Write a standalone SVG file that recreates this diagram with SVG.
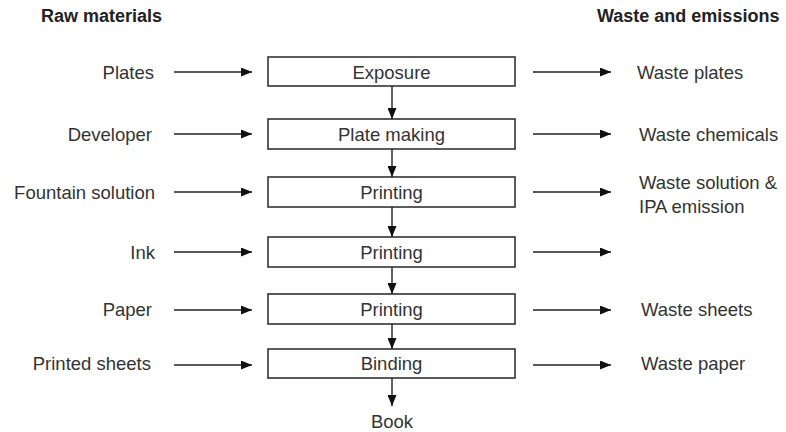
<svg xmlns="http://www.w3.org/2000/svg" width="786" height="432" viewBox="0 0 786 432">
<defs>
<style>
text{font-family:"Liberation Sans",Arial,sans-serif;font-size:18.5px;fill:#333}
.h{font-weight:bold;font-size:18px;fill:#222}
.l{text-anchor:end}
.c{text-anchor:middle}
.box{fill:#fff;stroke:#333;stroke-width:1.6}
line{stroke:#222;stroke-width:1.4}
</style>
<marker id="ah" markerUnits="userSpaceOnUse" markerWidth="11" markerHeight="9" refX="11" refY="4.5" orient="auto">
<path d="M0,0 L11,4.5 L0,9 z" fill="#111"/>
</marker>
</defs>
<rect width="786" height="432" fill="#fff"/>
<g id="headings">
<text class="h" x="41" y="22">Raw materials</text>
<text class="h" x="597" y="22">Waste and emissions</text>
</g>
<g id="inputs">
<text class="l" x="154" y="78.5">Plates</text>
<text class="l" x="152" y="140.5">Developer</text>
<text class="l" x="155" y="198.5">Fountain solution</text>
<text class="l" x="155" y="258.5">Ink</text>
<text class="l" x="152" y="315.5">Paper</text>
<text class="l" x="151" y="370">Printed sheets</text>
</g>
<g id="n1"><rect class="box" x="268" y="57" width="247" height="29"/><text class="c" x="391.5" y="78.5">Exposure</text></g>
<g id="n2"><rect class="box" x="268" y="119" width="247" height="30"/><text class="c" x="391.5" y="140.5">Plate making</text></g>
<g id="n3"><rect class="box" x="268" y="177" width="247" height="30"/><text class="c" x="391.5" y="198.5">Printing</text></g>
<g id="n4"><rect class="box" x="268" y="237" width="247" height="30"/><text class="c" x="391.5" y="258.5">Printing</text></g>
<g id="n5"><rect class="box" x="268" y="294" width="247" height="30"/><text class="c" x="391.5" y="315.5">Printing</text></g>
<g id="n6"><rect class="box" x="268" y="349" width="247" height="29"/><text class="c" x="391.5" y="370">Binding</text></g>
<g id="book"><text class="c" x="392" y="428">Book</text></g>
<g id="outputs">
<text x="637" y="78.5">Waste plates</text>
<text x="639" y="140.5">Waste chemicals</text>
<text x="639" y="189">Waste solution &amp;</text>
<text x="639" y="213">IPA emission</text>
<text x="641" y="315.5">Waste sheets</text>
<text x="641" y="370">Waste paper</text>
</g>
<g id="connectors">
<line x1="174" y1="72" x2="252" y2="72" marker-end="url(#ah)"/>
<line x1="174" y1="134" x2="252" y2="134" marker-end="url(#ah)"/>
<line x1="174" y1="192" x2="252" y2="192" marker-end="url(#ah)"/>
<line x1="174" y1="252" x2="252" y2="252" marker-end="url(#ah)"/>
<line x1="174" y1="310" x2="252" y2="310" marker-end="url(#ah)"/>
<line x1="174" y1="365" x2="252" y2="365" marker-end="url(#ah)"/>
<line x1="533" y1="72" x2="611" y2="72" marker-end="url(#ah)"/>
<line x1="533" y1="134" x2="611" y2="134" marker-end="url(#ah)"/>
<line x1="533" y1="192" x2="611" y2="192" marker-end="url(#ah)"/>
<line x1="533" y1="252" x2="611" y2="252" marker-end="url(#ah)"/>
<line x1="533" y1="310" x2="611" y2="310" marker-end="url(#ah)"/>
<line x1="533" y1="365" x2="611" y2="365" marker-end="url(#ah)"/>
<line x1="392" y1="86" x2="392" y2="119" marker-end="url(#ah)"/>
<line x1="392" y1="149" x2="392" y2="177" marker-end="url(#ah)"/>
<line x1="392" y1="207" x2="392" y2="237" marker-end="url(#ah)"/>
<line x1="392" y1="267" x2="392" y2="294" marker-end="url(#ah)"/>
<line x1="392" y1="324" x2="392" y2="349" marker-end="url(#ah)"/>
<line x1="392" y1="378" x2="392" y2="406" marker-end="url(#ah)"/>
</g>
</svg>
